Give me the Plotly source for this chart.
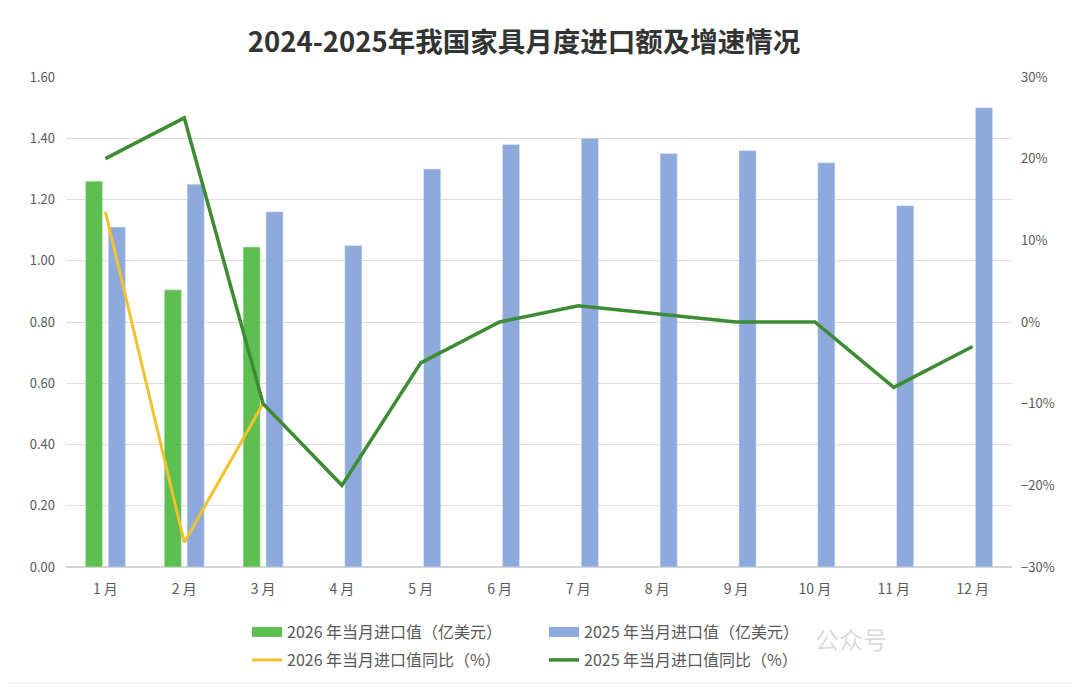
import plotly.graph_objects as go

# 月份
months = ["1 月", "2 月", "3 月", "4 月", "5 月", "6 月",
          "7 月", "8 月", "9 月", "10 月", "11 月", "12 月"]

# 当月进口值（亿美元）
import_2026 = [1.26, 0.905, 1.045]
import_2025 = [1.11, 1.25, 1.16, 1.05, 1.30, 1.38, 1.40, 1.35, 1.36, 1.32, 1.18, 1.50]

# 当月进口值同比（%）
yoy_2026 = [13.5, -27, -10]
yoy_2025 = [20, 25, -10, -20, -5, 0, 2, 1, 0, 0, -8, -3]

GREEN = "#5cbf4f"
BLUE = "#8eaadc"
YELLOW = "#f2c12e"
DARK_GREEN = "#3d8c34"
FONT = "Noto Sans CJK SC"

# page body adds an 8px offset, positions below are shifted back by it
OFF = 8
W, H = 1080, 689

fig = go.Figure()

fig.add_trace(go.Bar(x=months[:len(import_2026)], y=import_2026, name="2026 年当月进口值（亿美元）",
                     marker_color=GREEN, showlegend=False, legendgroup="b26"))
fig.add_trace(go.Bar(x=months, y=import_2025, name="2025 年当月进口值（亿美元）",
                     marker_color=BLUE, showlegend=False, legendgroup="b25"))

fig.add_trace(go.Scatter(x=months[:len(yoy_2026)], y=yoy_2026, name="2026 年当月进口值同比（%）",
                         mode="lines", line=dict(color=YELLOW, width=3), yaxis="y2",
                         legend="legend2"))
fig.add_trace(go.Scatter(x=months, y=yoy_2025, name="2025 年当月进口值同比（%）",
                         mode="lines", line=dict(color=DARK_GREEN, width=3.5), yaxis="y2",
                         legend="legend2"))

# wide rectangle swatches for the bar entries in the legend
fig.add_trace(go.Scatter(x=[None], y=[None], mode="lines", name="2026 年当月进口值（亿美元）",
                         line=dict(color=GREEN, width=11), legendgroup="b26"))
fig.add_trace(go.Scatter(x=[None], y=[None], mode="lines", name="2025 年当月进口值（亿美元）",
                         line=dict(color=BLUE, width=11), legendgroup="b25"))

legend_common = dict(orientation="h", xanchor="left", yanchor="middle",
                     xref="container", yref="container", x=(247 - OFF) / W,
                     entrywidth=252, entrywidthmode="pixels", bgcolor="rgba(0,0,0,0)",
                     font=dict(family=FONT, size=16, color="#595959"))

fig.update_layout(
    width=W, height=H,
    paper_bgcolor="white", plot_bgcolor="white",
    margin=dict(l=66 - OFF, r=W - 1012 + OFF, t=77 - OFF, b=H - 567 + OFF, autoexpand=False),
    font=dict(family=FONT, size=13, color="#595959"),
    title=dict(text="<b>2024-2025年我国家具月度进口额及增速情况</b>",
               x=(524 - OFF) / W, xanchor="center", y=1 - (42 - OFF) / H, yanchor="middle",
               font=dict(family=FONT, size=27.5, color="#333333")),
    barmode="group", bargap=0.42, bargroupgap=0.25,
    xaxis=dict(categoryorder="array", categoryarray=months, showgrid=False,
               showline=False, ticks="", ticklabelstandoff=12,
               tickfont=dict(size=14, color="#595959")),
    yaxis=dict(range=[0, 1.6], dtick=0.2, tickformat=".2f", showgrid=True,
               gridcolor="#dedede", gridwidth=1, zeroline=True, zerolinecolor="#d4d4d4",
               showline=False, ticks="", ticklabelstandoff=10),
    yaxis2=dict(range=[-30, 30], dtick=10, ticksuffix="%", overlaying="y", side="right",
                showgrid=False, zeroline=False, showline=False, ticks="", ticklabelstandoff=8),
    legend=dict(y=1 - (632 - OFF) / H, **legend_common),
    legend2=dict(y=1 - (660 - OFF) / H, **legend_common),
    shapes=[dict(type="rect", xref="paper", yref="paper", x0=-0.064, x1=1.068,
                 y0=-0.237, y1=1.151, line=dict(color="#e6e6e6", width=1), layer="below")],
    annotations=[dict(text="公众号", xref="paper", yref="paper", x=0.87, y=-0.185,
                      showarrow=False, font=dict(family=FONT, size=24, color="rgba(150,150,150,0.35)"))],
)

fig.write_html("out.html")
